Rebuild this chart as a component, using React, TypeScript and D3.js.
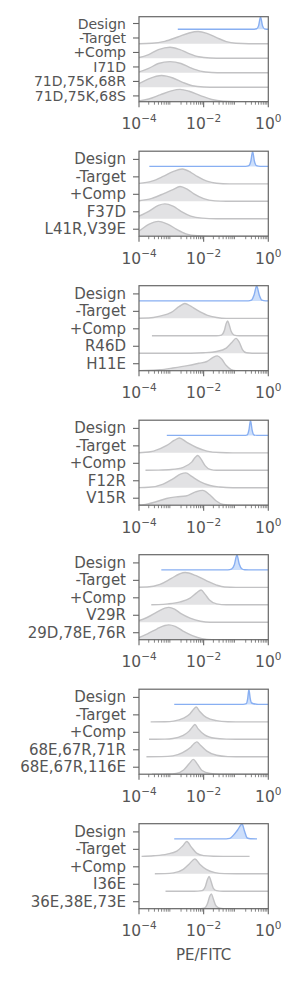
import * as d3 from "d3";

// each curve: [log10(PE/FITC), relative density]
type Pt = [number, number];

const labels1 = ["Design", "-Target", "+Comp", "I71D", "71D,75K,68R", "71D,75K,68S"];
const curves1: Pt[][] = [
  [[-2.8, 0], [-0.5, 0], [-0.36, 0.04], [-0.3, 0.3], [-0.24, 1], [-0.18, 0.3], [-0.12, 0.04], [0, 0], [0.3, 0]],
  [[-4.2, 0], [-3.6, 0.04], [-3.2, 0.2], [-2.8, 0.55], [-2.45, 0.88], [-2.17, 1], [-1.9, 0.85], [-1.6, 0.5], [-1.3, 0.18], [-1.0, 0.04], [-0.6, 0], [0.3, 0]],
  [[-4.2, 0], [-4, 0.06], [-3.7, 0.3], [-3.4, 0.7], [-3.04, 0.9], [-2.75, 0.72], [-2.45, 0.38], [-2.15, 0.12], [-1.8, 0.02], [-1.4, 0], [0.3, 0]],
  [[-4.2, 0], [-4, 0.07], [-3.7, 0.35], [-3.4, 0.75], [-3.04, 0.9], [-2.7, 0.75], [-2.4, 0.4], [-2.1, 0.13], [-1.75, 0.02], [-1.4, 0], [0.3, 0]],
  [[-4.2, 0.1], [-4, 0.3], [-3.7, 0.68], [-3.3, 0.95], [-2.95, 0.75], [-2.65, 0.4], [-2.35, 0.12], [-2.0, 0.02], [-1.6, 0], [0.3, 0]],
  [[-4.2, 0], [-4, 0.06], [-3.7, 0.22], [-3.35, 0.55], [-3.0, 0.88], [-2.73, 1], [-2.45, 0.85], [-2.1, 0.5], [-1.75, 0.18], [-1.4, 0.04], [-1.0, 0], [0.3, 0]],
];

const labels2 = ["Design", "-Target", "+Comp", "F37D", "L41R,V39E"];
const curves2: Pt[][] = [
  [[-3.68, 0], [-0.7, 0], [-0.6, 0.05], [-0.54, 0.35], [-0.485, 1], [-0.43, 0.35], [-0.37, 0.05], [-0.25, 0], [0.3, 0]],
  [[-4.2, 0], [-4, 0.03], [-3.6, 0.18], [-3.25, 0.5], [-2.95, 0.82], [-2.66, 1], [-2.4, 0.78], [-2.2, 0.5], [-1.9, 0.18], [-1.6, 0.04], [-1.2, 0], [0.3, 0]],
  [[-4.2, 0], [-4, 0.04], [-3.6, 0.2], [-3.2, 0.55], [-2.95, 0.78], [-2.73, 1], [-2.5, 0.8], [-2.3, 0.5], [-2.0, 0.18], [-1.65, 0.03], [-1.3, 0], [0.3, 0]],
  [[-4.2, 0.05], [-4, 0.18], [-3.7, 0.5], [-3.4, 0.9], [-3.2, 1], [-2.95, 0.85], [-2.7, 0.5], [-2.4, 0.18], [-2.05, 0.04], [-1.6, 0], [0.3, 0]],
  [[-4.2, 0.15], [-4, 0.35], [-3.7, 0.8], [-3.4, 1], [-3.1, 0.8], [-2.85, 0.48], [-2.55, 0.16], [-2.2, 0.03], [-1.8, 0], [0.3, 0]],
];

const labels3 = ["Design", "-Target", "+Comp", "R46D", "H11E"];
const curves3: Pt[][] = [
  [[-4.2, 0], [-0.62, 0], [-0.52, 0.05], [-0.44, 0.4], [-0.36, 1], [-0.28, 0.4], [-0.2, 0.05], [-0.08, 0], [0.3, 0]],
  [[-4.2, 0], [-3.7, 0.02], [-3.35, 0.15], [-3.0, 0.4], [-2.75, 0.8], [-2.58, 1], [-2.4, 0.82], [-2.2, 0.55], [-1.9, 0.22], [-1.6, 0.06], [-1.3, 0], [0.3, 0]],
  [[-3.6, 0], [-1.6, 0], [-1.45, 0.05], [-1.36, 0.35], [-1.3, 0.85], [-1.26, 1], [-1.21, 0.75], [-1.15, 0.3], [-1.06, 0.05], [-0.9, 0], [0.3, 0]],
  [[-4.2, 0], [-2.4, 0], [-2.0, 0.03], [-1.6, 0.12], [-1.3, 0.35], [-1.13, 0.72], [-1.0, 1], [-0.9, 0.75], [-0.8, 0.25], [-0.68, 0.03], [-0.5, 0], [0.3, 0]],
  [[-4.2, 0], [-3.8, 0.01], [-3.35, 0.06], [-2.95, 0.18], [-2.5, 0.34], [-2.15, 0.5], [-1.9, 0.62], [-1.72, 0.88], [-1.58, 1], [-1.45, 0.8], [-1.3, 0.35], [-1.15, 0.08], [-1.0, 0], [0.3, 0]],
];

const labels4 = ["Design", "-Target", "+Comp", "F12R", "V15R"];
const curves4: Pt[][] = [
  [[-3.14, 0], [-0.75, 0], [-0.65, 0.04], [-0.6, 0.35], [-0.55, 1], [-0.5, 0.35], [-0.45, 0.04], [-0.35, 0], [0.3, 0]],
  [[-4.2, 0], [-3.9, 0.02], [-3.55, 0.12], [-3.14, 0.5], [-2.9, 0.85], [-2.75, 1], [-2.53, 0.72], [-2.22, 0.36], [-1.9, 0.12], [-1.5, 0.02], [-1.1, 0], [0.3, 0]],
  [[-3.8, 0], [-3.4, 0.01], [-3.0, 0.05], [-2.63, 0.2], [-2.37, 0.55], [-2.25, 0.9], [-2.18, 1], [-2.08, 0.75], [-1.95, 0.3], [-1.8, 0.06], [-1.6, 0], [0.3, 0]],
  [[-4.2, 0], [-3.7, 0.03], [-3.25, 0.25], [-2.95, 0.6], [-2.7, 0.93], [-2.55, 1], [-2.37, 0.76], [-2.1, 0.4], [-1.8, 0.15], [-1.5, 0.05], [-1.1, 0], [0.3, 0]],
  [[-4.2, 0], [-3.85, 0.03], [-3.45, 0.25], [-3.15, 0.45], [-2.85, 0.56], [-2.55, 0.62], [-2.25, 0.9], [-2.03, 1], [-1.82, 0.72], [-1.62, 0.3], [-1.4, 0.05], [-1.1, 0], [0.3, 0]],
];

const labels5 = ["Design", "-Target", "+Comp", "V29R", "29D,78E,76R"];
const curves5: Pt[][] = [
  [[-3.31, 0], [-1.25, 0], [-1.14, 0.05], [-1.05, 0.35], [-0.97, 1], [-0.9, 0.4], [-0.82, 0.08], [-0.73, 0.01], [-0.6, 0], [0.3, 0]],
  [[-4.2, 0], [-3.75, 0.02], [-3.35, 0.2], [-3.0, 0.6], [-2.75, 0.9], [-2.57, 1], [-2.25, 0.8], [-1.92, 0.45], [-1.6, 0.15], [-1.35, 0.02], [-1.0, 0], [0.3, 0]],
  [[-3.62, 0], [-3.4, 0.01], [-3.1, 0.06], [-2.72, 0.2], [-2.42, 0.45], [-2.22, 0.8], [-2.08, 1], [-1.96, 0.72], [-1.82, 0.32], [-1.6, 0.06], [-1.3, 0], [0.3, 0]],
  [[-4.2, 0.03], [-4.0, 0.12], [-3.75, 0.32], [-3.45, 0.68], [-3.2, 0.95], [-3.08, 1], [-2.9, 0.88], [-2.7, 0.58], [-2.42, 0.28], [-2.1, 0.07], [-1.8, 0], [0.3, 0]],
  [[-4.2, 0.04], [-4.0, 0.15], [-3.75, 0.38], [-3.45, 0.72], [-3.2, 0.96], [-3.08, 1], [-2.88, 0.9], [-2.65, 0.6], [-2.35, 0.28], [-2.05, 0.07], [-1.75, 0], [0.3, 0]],
];

const labels6 = ["Design", "-Target", "+Comp", "68E,67R,71R", "68E,67R,116E"];
const curves6: Pt[][] = [
  [[-2.91, 0], [-0.78, 0], [-0.68, 0.05], [-0.64, 0.35], [-0.6, 1], [-0.56, 0.4], [-0.52, 0.1], [-0.45, 0.04], [-0.38, 0.02], [-0.3, 0], [0.3, 0]],
  [[-3.64, 0], [-3.2, 0.01], [-2.93, 0.05], [-2.62, 0.25], [-2.42, 0.55], [-2.31, 0.85], [-2.23, 1], [-2.12, 0.7], [-1.92, 0.3], [-1.6, 0.08], [-1.25, 0.01], [-1.0, 0], [0.3, 0]],
  [[-3.69, 0], [-3.2, 0.01], [-2.95, 0.05], [-2.65, 0.25], [-2.45, 0.55], [-2.34, 0.85], [-2.27, 1], [-2.17, 0.7], [-1.97, 0.3], [-1.65, 0.07], [-1.3, 0.01], [-1.0, 0], [0.3, 0]],
  [[-3.77, 0], [-3.3, 0.01], [-2.95, 0.06], [-2.65, 0.28], [-2.42, 0.6], [-2.3, 0.88], [-2.21, 1], [-2.1, 0.78], [-1.9, 0.38], [-1.6, 0.1], [-1.25, 0.01], [-1.0, 0], [0.3, 0]],
  [[-3.6, 0], [-3.1, 0.01], [-2.85, 0.05], [-2.62, 0.28], [-2.45, 0.7], [-2.32, 1], [-2.2, 0.7], [-2.05, 0.25], [-1.8, 0.05], [-1.5, 0], [0.3, 0]],
];

const labels7 = ["Design", "-Target", "+Comp", "I36E", "36E,38E,73E"];
const curves7: Pt[][] = [
  [[-2.91, 0], [-1.3, 0], [-1.19, 0.03], [-1.09, 0.22], [-0.95, 0.6], [-0.81, 1], [-0.74, 0.55], [-0.65, 0.06], [-0.55, 0.01], [-0.35, 0]],
  [[-3.92, 0], [-3.55, 0.04], [-3.13, 0.15], [-2.83, 0.35], [-2.65, 0.7], [-2.52, 1], [-2.38, 0.62], [-2.22, 0.22], [-2.0, 0.05], [-1.7, 0.01], [-1.4, 0], [-0.58, 0]],
  [[-3.51, 0], [-3.2, 0.01], [-2.93, 0.06], [-2.63, 0.3], [-2.43, 0.7], [-2.27, 1], [-2.12, 0.65], [-1.92, 0.3], [-1.65, 0.08], [-1.35, 0.01], [-1.0, 0], [0.3, 0]],
  [[-3.18, 0], [-2.3, 0], [-2.05, 0.04], [-1.95, 0.3], [-1.88, 0.8], [-1.83, 1], [-1.77, 0.65], [-1.7, 0.2], [-1.6, 0.04], [-1.4, 0], [0.3, 0]],
  [[-2.98, 0], [-2.2, 0], [-1.98, 0.04], [-1.88, 0.35], [-1.81, 0.85], [-1.76, 1], [-1.7, 0.65], [-1.62, 0.2], [-1.5, 0.04], [-1.3, 0], [0.3, 0]],
];

const xTickExps = [-4, -2, 0];
const xLabel = "PE/FITC";

const panels = [
  { labels: labels1, curves: curves1 },
  { labels: labels2, curves: curves2 },
  { labels: labels3, curves: curves3 },
  { labels: labels4, curves: curves4 },
  { labels: labels5, curves: curves5 },
  { labels: labels6, curves: curves6 },
  { labels: labels7, curves: curves7 },
];

export default function App() {
  const width = 300;
  const height = 981;
  const marginLeft = 139;
  const marginRight = 268.3;
  const firstTop = 16.7;
  const stride = 134.5;
  const boxH = 85;
  const peak = 0.85;
  const textColor = "#555";
  const spineColor = "#666";
  const font = "DejaVu Sans";

  const x = d3.scaleLog().domain([1e-4, 1]).range([marginLeft, marginRight]);
  const minorTicks: number[] = [];
  for (let e = -4; e < 0; e++) for (let m = 2; m <= 9; m++) minorTicks.push(m * 10 ** e);

  return (
    <svg
      width={width}
      height={height}
      style={{ position: "absolute", left: 0, top: 0, fontFamily: font }}
    >
      {panels.map((p, k) => {
        const top = firstTop + k * stride;
        const bottom = top + boxH;
        const n = p.labels.length;
        const y = d3.scaleLinear().domain([0, n - 1 + 0.87]).range([bottom, top]);
        // six-row panel is tighter, so its labels are a touch smaller
        const labelSize = n > 5 ? 14 : 15;
        return (
          <g key={k}>
            <clipPath id={`clip${k}`}>
              <rect x={marginLeft} y={top} width={marginRight - marginLeft} height={boxH} />
            </clipPath>
            <g clipPath={`url(#clip${k})`}>
              {p.curves.map((c, i) => {
                const base = n - 1 - i;
                const blue = i === 0;
                const area = d3
                  .area<Pt>()
                  .x((d) => x(10 ** d[0]))
                  .y0(y(base))
                  .y1((d) => y(base + d[1] * peak))
                  .curve(d3.curveMonotoneX);
                const line = d3
                  .line<Pt>()
                  .x((d) => x(10 ** d[0]))
                  .y((d) => y(base + d[1] * peak))
                  .curve(d3.curveMonotoneX);
                return (
                  <g key={i}>
                    <path d={area(c) || ""} fill={blue ? "#cddffb" : "#e2e2e4"} />
                    <path
                      d={line(c) || ""}
                      fill="none"
                      stroke={blue ? "#88aff2" : "#c2c2c4"}
                      strokeWidth={1.4}
                    />
                  </g>
                );
              })}
            </g>
            {/* box */}
            <rect
              x={marginLeft}
              y={top}
              width={marginRight - marginLeft}
              height={boxH}
              fill="none"
              stroke={spineColor}
              strokeWidth={1.2}
            />
            {/* y ticks */}
            {p.labels.map((l, i) => {
              const ty = y(n - 1 - i + 0.4);
              return (
                <g key={l}>
                  <line x1={marginLeft - 6} x2={marginLeft} y1={ty} y2={ty} stroke={spineColor} strokeWidth={1.1} />
                  <text
                    x={marginLeft - 13}
                    y={ty}
                    textAnchor="end"
                    dominantBaseline="central"
                    fontSize={labelSize}
                    fill={textColor}
                  >
                    {l}
                  </text>
                </g>
              );
            })}
            {/* x ticks */}
            {minorTicks.map((t) => (
              <line key={t} x1={x(t)} x2={x(t)} y1={bottom} y2={bottom + 3} stroke={spineColor} strokeWidth={0.8} />
            ))}
            {xTickExps.map((e) => (
              <g key={e}>
                <line x1={x(10 ** e)} x2={x(10 ** e)} y1={bottom} y2={bottom + 5.5} stroke={spineColor} strokeWidth={1.1} />
                <text x={x(10 ** e)} y={bottom + 27.5} textAnchor="middle" fontSize={15.5} fill={textColor}>
                  10
                  <tspan fontSize={10.5} dy={-7}>
                    {e === 0 ? "0" : `\u2212${-e}`}
                  </tspan>
                </text>
              </g>
            ))}
            {k === panels.length - 1 && (
              <text
                x={(marginLeft + marginRight) / 2}
                y={bottom + 51}
                textAnchor="middle"
                fontSize={15}
                fill={textColor}
              >
                {xLabel}
              </text>
            )}
          </g>
        );
      })}
    </svg>
  );
}
